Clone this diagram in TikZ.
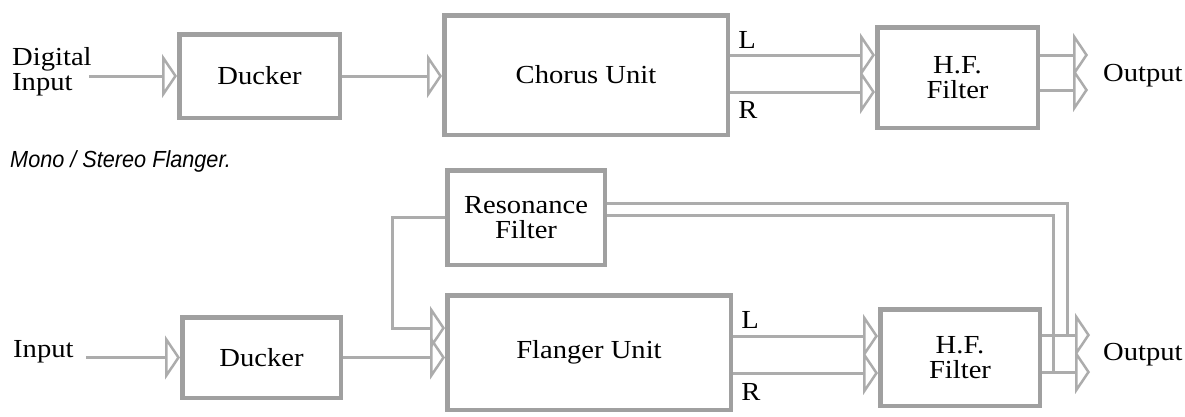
\documentclass[tikz,border=0pt]{standalone}
\usepackage{fontspec}
\setmainfont[FakeStretch=1.1]{Liberation Serif}
\newfontfamily\capfont[FakeStretch=0.93]{Liberation Sans}
\usetikzlibrary{arrows.meta}
\definecolor{ln}{RGB}{172,172,172}
\definecolor{bx}{RGB}{160,160,160}
\begin{document}
\begin{tikzpicture}[x=1pt,y=-1pt,
  lbl/.style={font=\fontsize{26}{25}\selectfont, inner sep=0pt},
  blk/.style={draw=bx, line width=4.5pt, fill=white, font=\fontsize{26}{25}\selectfont, align=center, inner sep=0pt},
  wire/.style={draw=ln, line width=3pt},
  arr/.style={wire, -{Triangle[open, length=15pt, width=44pt, line width=2.5pt]}},
]
\useasboundingbox (0,0) rectangle (1185,416);

% ---------- top: chorus ----------
\node[lbl, align=left, anchor=west] (digin) at (12,72) {Digital\\Input};
\node[blk, minimum width=160.5pt, minimum height=83.5pt] (duck1) at (259.5,76) {Ducker};
\node[blk, minimum width=283.5pt, minimum height=119.5pt] (chorus) at (586,75) {Chorus Unit};
\node[blk, minimum width=160.5pt, minimum height=100.5pt] (hf1) at (957.5,77.5) {H.F.\\Filter};
\node[lbl] (l1) at (747,40) {L};
\node[lbl] (r1) at (748,110) {R};
\node[lbl, anchor=west] (out1) at (1103,76) {Output};

\coordinate (y1L) at (0,55);
\coordinate (y1R) at (0,92);
\coordinate (o1L) at (1088,55);
\coordinate (o1R) at (1088,90);

\draw[arr] ([xshift=-3pt]digin.east |- duck1.west) -- (duck1.west);
\draw[arr] (duck1.east) -- (chorus.west |- duck1.east);
\draw[arr] (chorus.east |- y1L) -- (hf1.west |- y1L);
\draw[arr] (chorus.east |- y1R) -- (hf1.west |- y1R);
\draw[arr] (hf1.east |- o1L) -- (o1L);
\draw[arr] (hf1.east |- o1R) -- (o1R);

% ---------- caption ----------
\node[anchor=base west, inner sep=0pt, font=\capfont\itshape\fontsize{23.3}{26}\selectfont] (cap) at (10,167) {Mono / Stereo Flanger.};

% ---------- bottom: flanger ----------
\node[lbl, anchor=west] (input) at (13,352) {Input};
\node[blk, minimum width=157.5pt, minimum height=94.5pt] (res) at (526,217.5) {Resonance\\Filter};
\node[blk, minimum width=158.5pt, minimum height=80.5pt] (duck2) at (261.5,357.5) {Ducker};
\node[blk, minimum width=283.5pt, minimum height=114.5pt] (flanger) at (589,352.5) {Flanger Unit};
\node[blk, minimum width=159.5pt, minimum height=96.5pt] (hf2) at (960,357.5) {H.F.\\Filter};
\node[lbl] (l2) at (750,320) {L};
\node[lbl] (r2) at (751,392) {R};
\node[lbl, anchor=west] (out2) at (1103,355) {Output};

\coordinate (y2L) at (0,336);
\coordinate (y2R) at (0,373);
\coordinate (o2L) at (1090,335);
\coordinate (o2R) at (1090,372);
\coordinate (fbx) at (392,328);
\coordinate (fbA) at (1067,203);
\coordinate (fbB) at (1053,215);

\draw[arr] ([xshift=12pt]input.east |- duck2.west) -- (duck2.west);
\draw[arr] (duck2.east) -- (flanger.west |- duck2.east);
\draw[arr] (res.west) -| (fbx) -- (flanger.west |- fbx);
\draw[arr] (flanger.east |- y2L) -- (hf2.west |- y2L);
\draw[arr] (flanger.east |- y2R) -- (hf2.west |- y2R);
\draw[wire] (res.east |- fbA) -- (fbA) -- (fbA |- o2L);
\draw[wire] (res.east |- fbB) -- (fbB) -- (fbB |- o2R);
\draw[arr] (hf2.east |- o2L) -- (o2L);
\draw[arr] (hf2.east |- o2R) -- (o2R);
\end{tikzpicture}
\end{document}
